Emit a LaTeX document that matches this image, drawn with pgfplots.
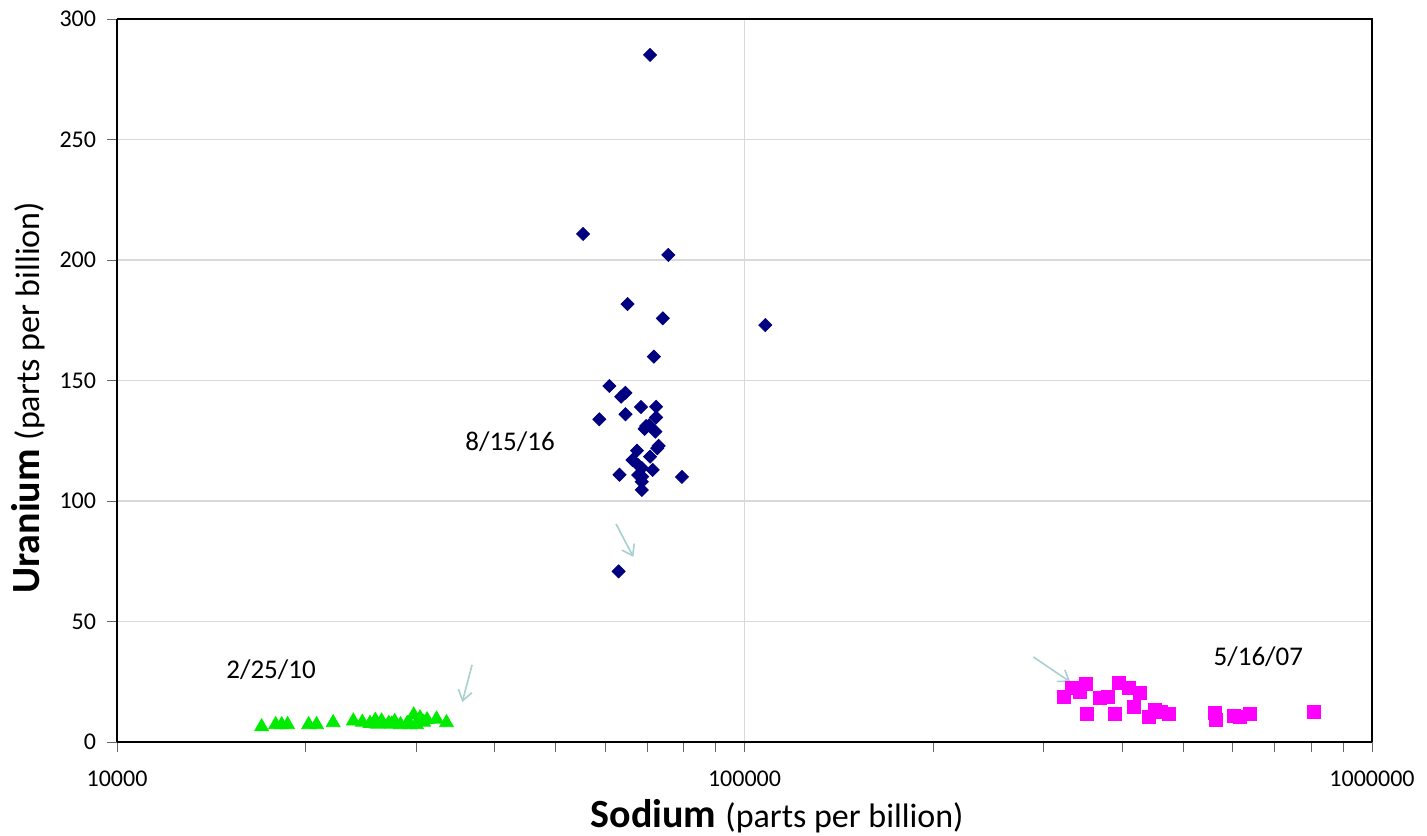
\documentclass[border=0pt]{standalone}
\usepackage{fontspec}
\setmainfont{Carlito}
\usepackage{pgfplots}
\pgfplotsset{compat=1.18}
\usetikzlibrary{calc,arrows.meta}
\definecolor{navyd}{RGB}{0,0,128}
\definecolor{greent}{RGB}{0,235,0}
\definecolor{mags}{RGB}{255,0,255}
\definecolor{gridc}{RGB}{217,217,217}
\definecolor{arrowc}{RGB}{168,208,208}
\begin{document}
\begin{tikzpicture}
\begin{axis}[
  scale only axis, width=627.5pt, height=361.5pt,
  xmode=log, log basis x=10,
  xmin=10000, xmax=1000000, ymin=0, ymax=300,
  xtick={10000,100000,1000000},
  xticklabels={10000,100000,1000000},
  minor xtick={20000,30000,40000,50000,60000,70000,80000,90000,200000,300000,400000,500000,600000,700000,800000,900000},
  ytick={0,50,100,150,200,250,300},
  /pgf/number format/assume math mode=true,
  axis x line*=bottom, axis y line*=left,
  axis line style={line width=1pt,black,-},
  tick align=outside,
  major tick length=5pt, minor tick length=5pt,
  tick style={black!60,line width=0.5pt},
  xmajorgrids, ymajorgrids,
  grid style={gridc,line width=0.6pt},
  xticklabel style={font=\fontsize{12}{14}\selectfont, yshift=-6pt},
  yticklabel style={font=\fontsize{12}{14}\selectfont, xshift=-2pt},
  xlabel={\fontsize{20}{24}\selectfont\bfseries Sodium \fontsize{17}{20}\selectfont\mdseries(parts per billion)},
  ylabel={\fontsize{20}{24}\selectfont\bfseries Uranium \fontsize{17}{20}\selectfont\mdseries(parts per billion)},
  xlabel style={at={(axis description cs:0.526,0)}, anchor=center, yshift=-37pt},
  ylabel style={at={(axis description cs:0,0.476)}, anchor=center, yshift=44.5pt},
  clip=false,
]
% top and right frame lines
\draw[black,line width=1pt] (rel axis cs:0,1) -- (rel axis cs:1,1) -- (rel axis cs:1,0);

\addplot[only marks, mark=square*, mark size=2.3pt, color=navyd, mark options={rotate=45}] coordinates {
(70700,285.1) (55300,210.8) (75600,202.1) (65100,181.7) (74100,175.8)
(107900,173.0) (71700,159.9) (60900,147.7) (63600,143.3) (64600,144.9)
(58700,133.9) (64600,136.0) (68400,139.0) (72300,139.1) (72300,134.7)
(69700,131.1) (69300,129.9) (70500,131.5) (72100,128.8) (73000,122.9)
(72600,121.9) (67400,120.9) (66300,117.0) (70700,118.4) (67700,114.9)
(68600,113.7) (71400,112.9) (68700,110.1) (67700,110.8) (63200,110.9)
(79500,110.0) (68600,108.0) (68600,104.6) (63000,70.8)
};

\addplot[only marks, mark=triangle*, mark size=4pt, color=greent] coordinates {
(17000,6.3) (17900,7.2) (18300,7.2) (18700,7.2) (20200,7.2) (20800,7.2)
(22100,8.0) (23800,8.7) (24600,8.2) (25300,7.7) (25800,9.0) (26000,7.4)
(26400,8.7) (27100,7.7) (27400,7.4) (27700,8.5) (28300,7.2) (29000,7.7)
(29300,7.2) (29700,11.2) (30000,7.2) (30400,10.0) (30800,8.2) (31200,9.2)
(32300,9.5) (33500,8.0)
};

\addplot[only marks, mark=square*, mark size=3.25pt, color=mags] coordinates {
(322500,18.8) (332600,22.3) (342900,20.9) (350500,24.3) (350800,11.6)
(369000,18.1) (379000,18.8) (389900,11.6) (395600,24.6) (409400,22.3)
(417000,14.6) (427400,20.2) (440700,10.5) (451600,13.3) (460000,12.6)
(474200,11.6) (562800,11.9) (564900,9.1) (601800,10.8) (616800,10.5)
(638300,11.6) (807500,12.6)
};

\node[font=\fontsize{13.5}{16}\selectfont] at (axis cs:42300,124.5) {8/15/16};
\node[font=\fontsize{13.5}{16}\selectfont] at (axis cs:17600,29.9) {2/25/10};
\node[font=\fontsize{13.5}{16}\selectfont] at (axis cs:659000,35.3) {5/16/07};

\draw[arrowc, line width=0.8pt, -{Straight Barb[length=5pt,width=7pt]}] (axis cs:62400,90.5) -- (axis cs:66500,76.8);
\draw[arrowc, line width=0.8pt, -{Straight Barb[length=5pt,width=7pt]}] (axis cs:36800,32) -- (axis cs:35500,16.6);
\draw[arrowc, line width=0.8pt, -{Straight Barb[length=5pt,width=7pt]}] (axis cs:288500,35.3) -- (axis cs:330500,24.9);
\end{axis}
\pgfresetboundingbox
\path[use as bounding box] ($(current axis.south west)+(-58.5pt,-46.5pt)$) rectangle ($(current axis.north east)+(27.5pt,9.5pt)$);
\end{tikzpicture}
\end{document}
